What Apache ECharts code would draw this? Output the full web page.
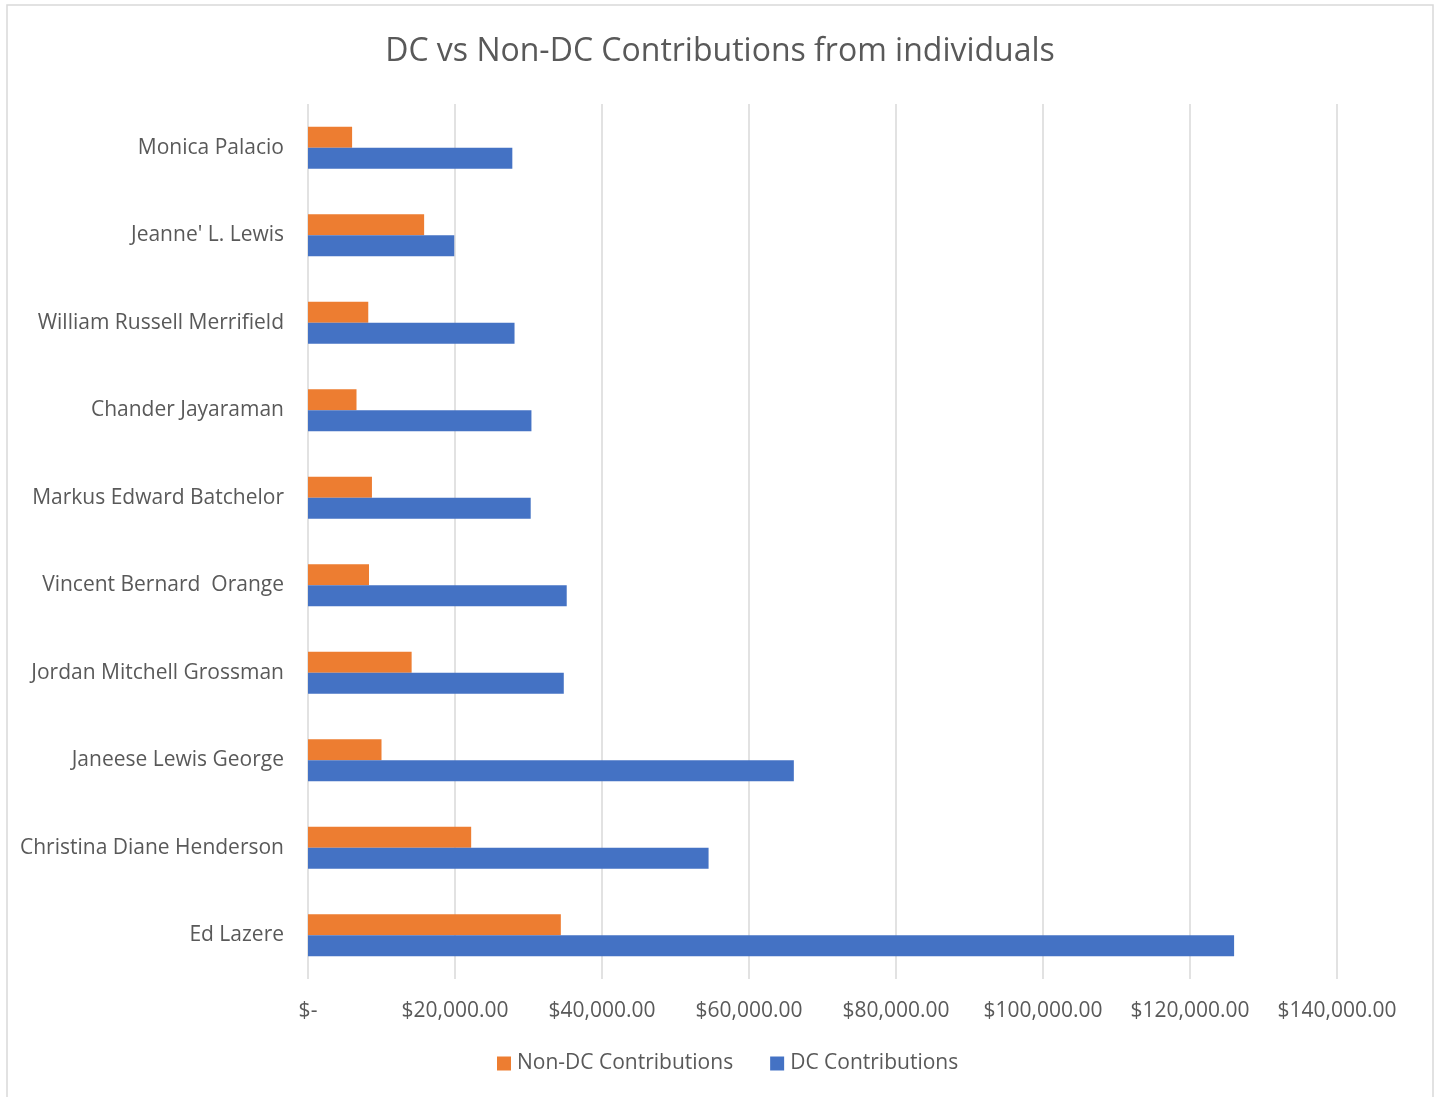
<!DOCTYPE html>
<html>
<head>
<meta charset="utf-8">
<style>
  html, body { margin: 0; padding: 0; background: #ffffff; }
  #chart { width: 1440px; height: 1097px; }
</style>
<script src="https://cdn.jsdelivr.net/npm/echarts@6/dist/echarts.min.js"></script>
</head>
<body>
<div id="chart"></div>
<script>
const categories = ['Ed Lazere', 'Christina Diane Henderson', 'Janeese Lewis George', 'Jordan Mitchell Grossman', 'Vincent Bernard  Orange', 'Markus Edward Batchelor', 'Chander Jayaraman', 'William Russell Merrifield', "Jeanne' L. Lewis", 'Monica Palacio'];
const nonDCContributions = [34400, 22200, 10000, 14100, 8300, 8700, 6600, 8200, 15800, 6000];
const dcContributions = [126000, 54500, 66100, 34800, 35200, 30300, 30400, 28100, 19900, 27800];
const seriesNames = ['Non-DC Contributions', 'DC Contributions'];
const axisMin = 0, axisMax = 140000, axisStep = 20000;

const FONT = 'Open Sans';
const TEXT = '#595959';

function money(v) {
  if (v === 0) return '$-';
  return '$' + v.toLocaleString('en-US', { minimumFractionDigits: 2, maximumFractionDigits: 2 });
}

const chart = echarts.init(document.getElementById('chart'));
chart.setOption({
  animation: false,
  backgroundColor: '#ffffff',
  graphic: [{
    type: 'rect',
    shape: { x: 7, y: 5, width: 1426, height: 1110 },
    style: { fill: 'none', stroke: '#d9d9d9', lineWidth: 1.5 },
    silent: true
  }],
  title: {
    text: 'DC vs Non-DC Contributions from individuals',
    left: 'center',
    top: 31,
    textStyle: { fontFamily: FONT, fontSize: 32, fontWeight: 'normal', color: TEXT }
  },
  legend: {
    bottom: 18,
    left: 492,
    itemWidth: 14,
    itemHeight: 14,
    itemGap: 37,
    icon: 'rect',
    textStyle: { fontFamily: FONT, fontSize: 21, color: TEXT, padding: [0, 0, 0, 1] },
    data: seriesNames
  },
  grid: { left: 308, right: 103, top: 104, height: 875, containLabel: false },
  xAxis: {
    type: 'value',
    min: axisMin,
    max: axisMax,
    interval: axisStep,
    axisLine: { show: false },
    axisTick: { show: false },
    splitLine: { show: true, lineStyle: { color: '#d9d9d9', width: 1.5 } },
    axisLabel: { formatter: money, fontFamily: FONT, fontSize: 21, color: TEXT, margin: 22 }
  },
  yAxis: {
    type: 'category',
    data: categories,
    axisLine: { show: false },
    axisTick: { show: false },
    axisLabel: { fontFamily: FONT, fontSize: 21, color: TEXT, margin: 24, padding: [3, 0, 0, 0] }
  },
  series: [
    {
      name: seriesNames[0],
      type: 'bar',
      data: nonDCContributions,
      barWidth: 21,
      barGap: '0%',
      itemStyle: { color: '#ED7D31' }
    },
    {
      name: seriesNames[1],
      type: 'bar',
      data: dcContributions,
      barWidth: 21,
      barGap: '0%',
      itemStyle: { color: '#4472C4' }
    }
  ]
});
</script>
</body>
</html>
